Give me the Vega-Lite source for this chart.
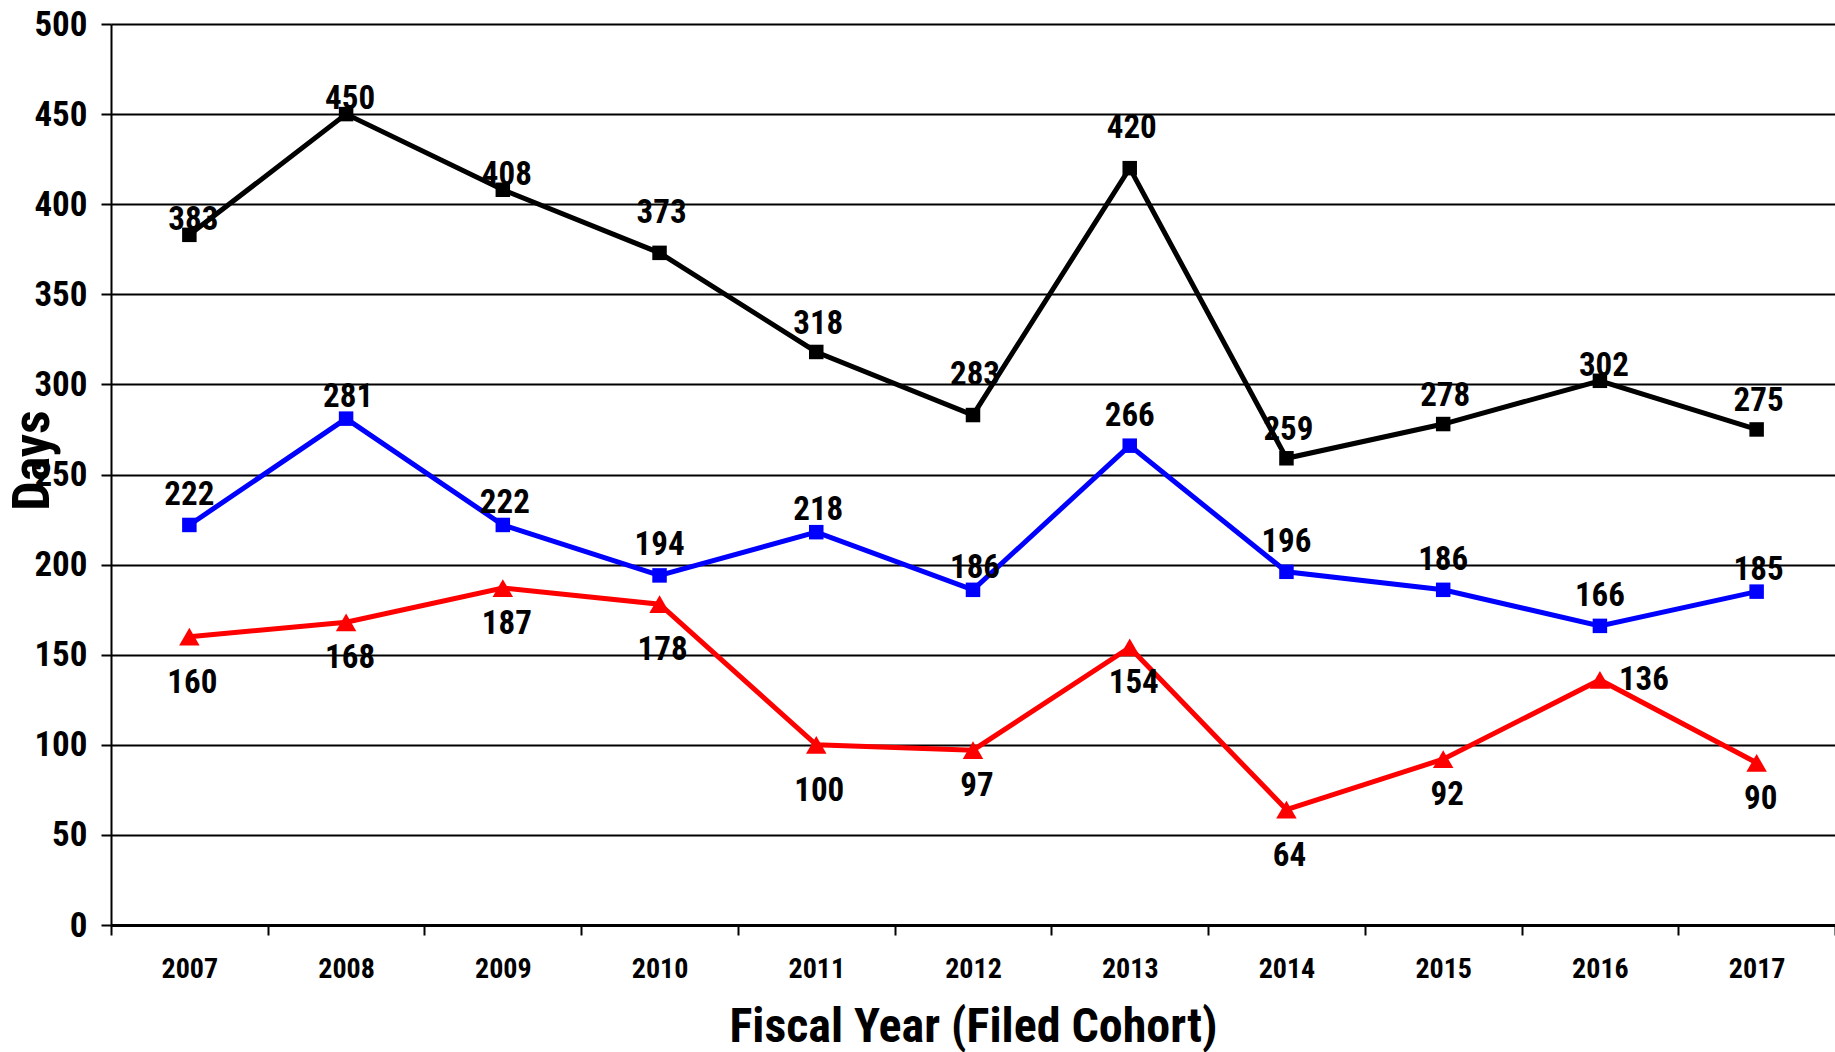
{
  "$schema": "https://vega.github.io/schema/vega-lite/v6.json",
  "width": 1724,
  "height": 901,
  "autosize": {"type": "none"},
  "padding": {"left": 111, "top": 24, "right": 0, "bottom": 127},
  "background": "white",
  "config": {
    "view": {"stroke": null},
    "font": "'Liberation Sans Narrow', 'Arial Narrow', 'Roboto Condensed', 'Noto Sans Condensed', 'Open Sans Condensed', 'DejaVu Sans Condensed', 'Liberation Sans', sans-serif"
  },
  "data": {
    "values": [
      {"year": 2007, "series": "Series 1", "days": 383},
      {"year": 2008, "series": "Series 1", "days": 450},
      {"year": 2009, "series": "Series 1", "days": 408},
      {"year": 2010, "series": "Series 1", "days": 373},
      {"year": 2011, "series": "Series 1", "days": 318},
      {"year": 2012, "series": "Series 1", "days": 283},
      {"year": 2013, "series": "Series 1", "days": 420},
      {"year": 2014, "series": "Series 1", "days": 259},
      {"year": 2015, "series": "Series 1", "days": 278},
      {"year": 2016, "series": "Series 1", "days": 302},
      {"year": 2017, "series": "Series 1", "days": 275},
      {"year": 2007, "series": "Series 2", "days": 222},
      {"year": 2008, "series": "Series 2", "days": 281},
      {"year": 2009, "series": "Series 2", "days": 222},
      {"year": 2010, "series": "Series 2", "days": 194},
      {"year": 2011, "series": "Series 2", "days": 218},
      {"year": 2012, "series": "Series 2", "days": 186},
      {"year": 2013, "series": "Series 2", "days": 266},
      {"year": 2014, "series": "Series 2", "days": 196},
      {"year": 2015, "series": "Series 2", "days": 186},
      {"year": 2016, "series": "Series 2", "days": 166},
      {"year": 2017, "series": "Series 2", "days": 185},
      {"year": 2007, "series": "Series 3", "days": 160},
      {"year": 2008, "series": "Series 3", "days": 168},
      {"year": 2009, "series": "Series 3", "days": 187},
      {"year": 2010, "series": "Series 3", "days": 178},
      {"year": 2011, "series": "Series 3", "days": 100},
      {"year": 2012, "series": "Series 3", "days": 97},
      {"year": 2013, "series": "Series 3", "days": 154},
      {"year": 2014, "series": "Series 3", "days": 64},
      {"year": 2015, "series": "Series 3", "days": 92},
      {"year": 2016, "series": "Series 3", "days": 136},
      {"year": 2017, "series": "Series 3", "days": 90}
    ]
  },
  "encoding": {
    "x": {
      "field": "year",
      "type": "ordinal",
      "scale": {"paddingInner": 0, "paddingOuter": 0},
      "axis": {
        "title": "Fiscal Year (Filed Cohort)",
        "tickBand": "extent",
        "grid": false,
        "labelAngle": 0,
        "domainColor": "black",
        "domainWidth": 3,
        "tickColor": "black",
        "tickWidth": 2,
        "tickSize": 10,
        "labelFontSize": 28,
        "labelFontWeight": "bold",
        "labelColor": "black",
        "labelPadding": 20,
        "titleFontSize": 48,
        "titleFontWeight": "bold",
        "titleColor": "black",
        "titlePadding": 20
      }
    },
    "y": {
      "field": "days",
      "type": "quantitative",
      "scale": {"domain": [0, 500], "nice": false},
      "axis": {
        "title": "Days",
        "values": [0, 50, 100, 150, 200, 250, 300, 350, 400, 450, 500],
        "grid": true,
        "gridColor": "black",
        "gridWidth": 2,
        "gridOpacity": 1,
        "domainColor": "black",
        "domainWidth": 2,
        "tickColor": "black",
        "tickWidth": 2,
        "tickSize": 10,
        "labelFontSize": 35,
        "labelFontWeight": "bold",
        "labelColor": "black",
        "labelPadding": 14,
        "titleFontSize": 52,
        "titleFontWeight": "bold",
        "titleColor": "black",
        "titleAngle": -90,
        "titleX": -79,
        "titleY": 436,
        "titleAlign": "center",
        "titleBaseline": "middle"
      }
    },
    "color": {
      "field": "series",
      "type": "nominal",
      "scale": {"domain": ["Series 1", "Series 2", "Series 3"], "range": ["#000000", "#0000FF", "#FF0000"]},
      "legend": null
    }
  },
  "layer": [
    {
      "mark": {"type": "line", "strokeWidth": 5}
    },
    {
      "transform": [{"filter": {"field": "series", "oneOf": ["Series 1", "Series 2"]}}],
      "mark": {"type": "point", "shape": "square", "filled": true, "opacity": 1, "size": 210}
    },
    {
      "transform": [{"filter": {"field": "series", "equal": "Series 3"}}],
      "mark": {"type": "point", "shape": "triangle-up", "filled": true, "opacity": 1, "size": 420}
    },
    {
      "transform": [{"filter": {"and": [{"field": "series", "equal": "Series 1"}, {"field": "year", "oneOf": [2007, 2008, 2009, 2016]}]}}],
      "mark": {"type": "text", "dy": -15, "dx": 4, "fontSize": 33, "fontWeight": "bold", "color": "black"},
      "encoding": {"text": {"field": "days"}, "color": {"value": "black"}}
    },
    {
      "transform": [{"filter": {"and": [{"field": "series", "equal": "Series 1"}, {"field": "year", "oneOf": [2011, 2014, 2015, 2017]}]}}],
      "mark": {"type": "text", "dy": -28, "dx": 2, "fontSize": 33, "fontWeight": "bold", "color": "black"},
      "encoding": {"text": {"field": "days"}, "color": {"value": "black"}}
    },
    {
      "transform": [{"filter": {"and": [{"field": "series", "equal": "Series 1"}, {"field": "year", "oneOf": [2010, 2012, 2013]}]}}],
      "mark": {"type": "text", "dy": -40, "dx": 2, "fontSize": 33, "fontWeight": "bold", "color": "black"},
      "encoding": {"text": {"field": "days"}, "color": {"value": "black"}}
    },
    {
      "transform": [{"filter": {"and": [{"field": "series", "equal": "Series 2"}, {"field": "year", "oneOf": [2008, 2009, 2011, 2012, 2017]}]}}],
      "mark": {"type": "text", "dy": -22, "dx": 2, "fontSize": 33, "fontWeight": "bold", "color": "black"},
      "encoding": {"text": {"field": "days"}, "color": {"value": "black"}}
    },
    {
      "transform": [{"filter": {"and": [{"field": "series", "equal": "Series 2"}, {"field": "year", "oneOf": [2007, 2010, 2013, 2014, 2015, 2016]}]}}],
      "mark": {"type": "text", "dy": -30, "fontSize": 33, "fontWeight": "bold", "color": "black"},
      "encoding": {"text": {"field": "days"}, "color": {"value": "black"}}
    },
    {
      "transform": [{"filter": {"and": [{"field": "series", "equal": "Series 3"}, {"field": "year", "oneOf": [2008, 2009, 2012, 2013, 2015, 2017]}]}}],
      "mark": {"type": "text", "dy": 36, "dx": 4, "fontSize": 33, "fontWeight": "bold", "color": "black"},
      "encoding": {"text": {"field": "days"}, "color": {"value": "black"}}
    },
    {
      "transform": [{"filter": {"and": [{"field": "series", "equal": "Series 3"}, {"field": "year", "oneOf": [2007, 2010, 2011, 2014]}]}}],
      "mark": {"type": "text", "dy": 46, "dx": 3, "fontSize": 33, "fontWeight": "bold", "color": "black"},
      "encoding": {"text": {"field": "days"}, "color": {"value": "black"}}
    },
    {
      "transform": [{"filter": {"and": [{"field": "series", "equal": "Series 3"}, {"field": "year", "oneOf": [2016]}]}}],
      "mark": {"type": "text", "dy": 0, "dx": 44, "fontSize": 33, "fontWeight": "bold", "color": "black"},
      "encoding": {"text": {"field": "days"}, "color": {"value": "black"}}
    }
  ]
}
